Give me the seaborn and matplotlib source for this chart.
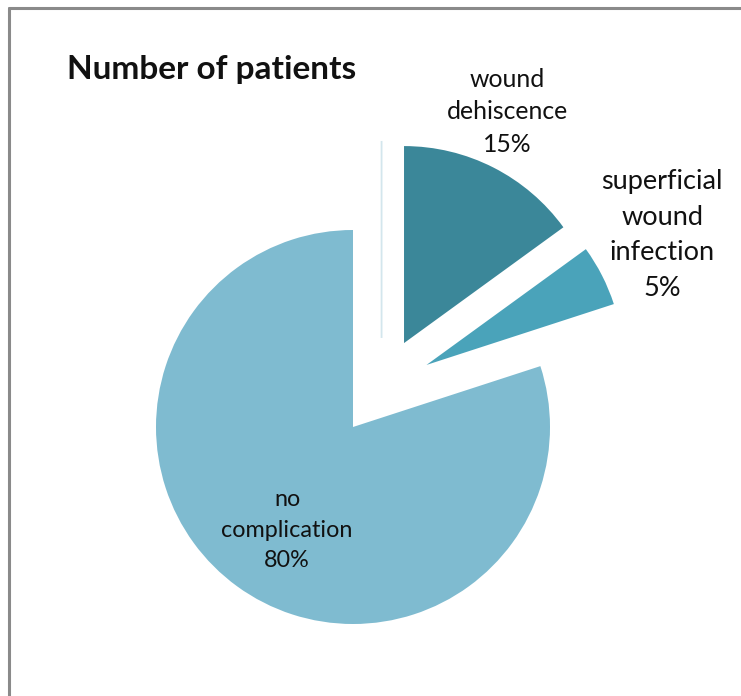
import matplotlib
matplotlib.use("Agg")
import matplotlib.pyplot as plt
import seaborn as sns
from matplotlib.lines import Line2D

# Complication counts (20 patients)
categories = ["other", "wound dehiscence", "superficial wound infection", "no complication"]
values = [0, 3, 1, 16]
label_lines = ["", "wound\ndehiscence", "superficial\nwound\ninfection", "no\ncomplication"]
colors = ["#ffffff", "#3b8799", "#4aa3ba", "#7fbbd0"]

# Offsets of the pulled-out slices (in pie radii)
offsets = [(0.145, 0.452), (0.259, 0.426), (0.373, 0.315), (0.0, 0.0)]
label_pos = [None, (0.782, 1.599), (1.569, 0.975), (-0.335, -0.523)]
label_size = [0, 17.8, 19.5, 16.8]
label_spacing = [0, 1.52, 1.52, 1.57]

sns.set_theme(style="white")
plt.rcParams["font.family"] = ["Lato", "DejaVu Sans"]

W, H = 741, 696
R = 197.0
cx, cy = 353.0, 427.0
fig = plt.figure(figsize=(W / 100, H / 100), dpi=100)
ax = fig.add_axes([0, 0, 1, 1])

wedges, _ = ax.pie(values, colors=colors, startangle=90, counterclock=False,
                   radius=1.0, wedgeprops=dict(linewidth=0))
for w, off in zip(wedges, offsets):
    w.set_center(off)
wedges[0].set_edgecolor("#d3e6ed")
wedges[0].set_linewidth(1.3)

ax.set_xlim(-cx / R, (W - cx) / R)
ax.set_ylim(-(H - cy) / R, cy / R)
ax.set_aspect("equal")
ax.axis("off")

total = sum(values)
for txt, val, pos, fs, ls in zip(label_lines, values, label_pos, label_size, label_spacing):
    if pos is None:
        continue
    pct = f"{round(100 * val / total)}%"
    ax.text(pos[0], pos[1], f"{txt}\n{pct}", ha="center", va="center",
            fontsize=fs, color="#111111", linespacing=ls)

fig.text(67 / W, 1 - 70 / H, "Number of patients", ha="left", va="center",
         fontsize=24, fontweight="bold", color="#111111")

# Chart frame (top and left edges)
fig.add_artist(Line2D([9 / W, 1], [1 - 8 / H, 1 - 8 / H], color="#8a8a8a", lw=2.2,
                      transform=fig.transFigure))
fig.add_artist(Line2D([9 / W, 9 / W], [0, 1 - 8 / H], color="#8a8a8a", lw=2.2,
                      transform=fig.transFigure))

fig.savefig("out.png", dpi=100)
